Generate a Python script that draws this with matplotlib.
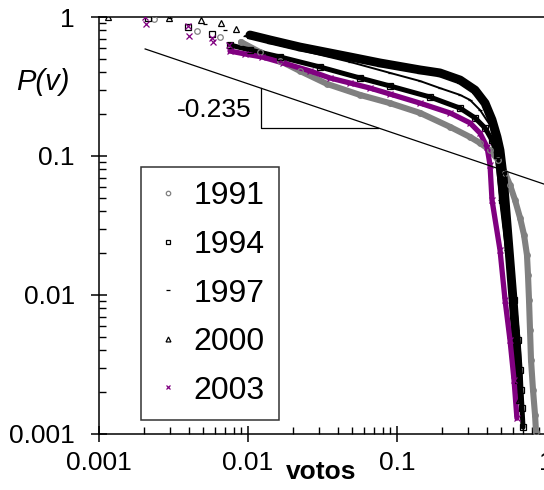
import numpy as np
import matplotlib
matplotlib.use("Agg")
import matplotlib.pyplot as plt
from matplotlib.ticker import LogLocator, NullFormatter

plt.rcParams['font.family'] = ['Liberation Sans', 'DejaVu Sans']

# ---- data (vote share v, P(v)) ----
v1991 = [0.00234, 0.00455, 0.00649, 0.00897, 0.0120, 0.0164, 0.0223, 0.0339, 0.0565, 0.0898,
         0.143, 0.227, 0.309, 0.361, 0.421, 0.476, 0.531, 0.573, 0.619, 0.670,
         0.712, 0.745, 0.757, 0.769, 0.781, 0.793, 0.818, 0.844, 0.857]
P1991 = [0.967, 0.793, 0.718, 0.661, 0.560, 0.483, 0.409, 0.330, 0.275, 0.240,
         0.204, 0.162, 0.137, 0.124, 0.110, 0.0936, 0.0754, 0.0618, 0.0483, 0.0358,
         0.0270, 0.0194, 0.0139, 0.00920, 0.00560, 0.00341, 0.00207, 0.00137, 0.00103]

v1994 = [0.00213, 0.00396, 0.00573, 0.00757, 0.0103, 0.0164, 0.0304, 0.0565, 0.0898, 0.166,
         0.265, 0.334, 0.390, 0.434, 0.469, 0.507, 0.556, 0.610, 0.649, 0.670,
         0.679, 0.690, 0.701]
P1994 = [0.983, 0.847, 0.755, 0.629, 0.579, 0.516, 0.437, 0.364, 0.319, 0.266,
         0.221, 0.188, 0.159, 0.130, 0.102, 0.0483, 0.0211, 0.00920, 0.00475, 0.00289,
         0.00207, 0.00154, 0.00112]

v1997 = [0.00300, 0.00514, 0.00701, 0.00955, 0.0141, 0.0223, 0.0484, 0.0898, 0.143, 0.194,
         0.265, 0.309, 0.361, 0.421, 0.455, 0.491, 0.539, 0.591, 0.638, 0.659, 0.670]
P1997 = [0.983, 0.890, 0.806, 0.730, 0.650, 0.579, 0.475, 0.396, 0.346, 0.308,
         0.275, 0.253, 0.214, 0.167, 0.120, 0.0483, 0.0211, 0.00920, 0.00560, 0.00341, 0.00245]

v2000 = [0.00115, 0.00295, 0.00484, 0.00659, 0.00830, 0.0103, 0.0141, 0.0223, 0.0355, 0.0484,
         0.0769, 0.143, 0.194, 0.265, 0.334, 0.390, 0.434, 0.469, 0.491, 0.514,
         0.531, 0.565, 0.601, 0.629, 0.649, 0.659]
P2000 = [1.0, 0.99, 0.951, 0.905, 0.820, 0.742, 0.683, 0.608, 0.551, 0.516,
         0.467, 0.416, 0.396, 0.352, 0.298, 0.240, 0.182, 0.137, 0.110, 0.0730,
         0.0483, 0.0211, 0.00920, 0.00475, 0.00245, 0.00176]

v2003 = [0.00204, 0.00207, 0.00396, 0.00402, 0.00573, 0.00582, 0.00745, 0.00757, 0.00955, 0.0124,
         0.0172, 0.0261, 0.0355, 0.0484, 0.0659, 0.0898, 0.143, 0.227, 0.309, 0.361,
         0.402, 0.421, 0.434, 0.491, 0.531, 0.573, 0.610, 0.638]
P2003 = [1.0, 0.890, 0.862, 0.730, 0.706, 0.661, 0.629, 0.569, 0.542, 0.516,
         0.467, 0.409, 0.364, 0.335, 0.308, 0.279, 0.240, 0.204, 0.173, 0.146,
         0.116, 0.0861, 0.0483, 0.0211, 0.00920, 0.00475, 0.00245, 0.00130]

# power-law guide and its slope triangle
fit_v = [0.00204, 1.0]
fit_P = [0.589, 0.0621]
tri_v = [0.01222, 0.01222, 0.0746]
tri_P = [0.308, 0.159, 0.159]
slope_label = "-0.235"

years = ["1991", "1994", "1997", "2000", "2003"]

# ---- styles ----
gray = '#808080'
purple = '#800080'
series = [
    # v, P, colour, marker, marker size, band width, first point of the dense band
    (v1991, P1991, gray, 'o', 4.0, 4.4, 3),
    (v1994, P1994, 'black', 's', 3.8, 3.6, 3),
    (v1997, P1997, 'black', '_', 3.5, 1.4, 3),
    (v2000, P2000, 'black', '^', 4.4, 6.4, 5),
    (v2003, P2003, purple, 'x', 3.8, 3.8, 7),
]

fig = plt.figure(figsize=(5.44, 4.9), dpi=100)
ax = fig.add_axes([0.182, 0.1143, 0.8217, 0.851])
ax.set_xscale('log')
ax.set_yscale('log')
ax.set_xlim(0.001, 1)
ax.set_ylim(0.001, 1)

handles = []
for (v, P, c, m, ms, lw, k), yr in zip(series, years):
    ax.plot(v[k:], P[k:], '-', color=c, lw=lw, solid_joinstyle='round',
            solid_capstyle='round', zorder=2)
    h, = ax.plot(v, P, ls='none', marker=m, ms=ms, mfc='none', mec=c,
                 mew=0.9, color=c, label=yr, zorder=3)
    handles.append(h)

ax.plot(fit_v, fit_P, color='black', lw=0.9, zorder=4)
ax.plot(tri_v, tri_P, color='black', lw=0.9, zorder=4)
ax.text(0.0106, 0.214, slope_label, fontsize=19, ha='right', va='center')

leg = ax.legend(handles=handles, loc='upper left', bbox_to_anchor=(0.094, 0.640),
                fontsize=23, frameon=True, fancybox=False, borderaxespad=0,
                borderpad=0.45, labelspacing=0.58, handlelength=0.8,
                handletextpad=0.4, markerscale=0.8)
leg.get_frame().set_edgecolor('black')
leg.get_frame().set_linewidth(1.1)

# axes frame: left, bottom and top; right edge falls outside the picture
for s in ['left', 'bottom', 'top']:
    ax.spines[s].set_linewidth(1.1)
ax.spines['right'].set_visible(False)

ax.set_xticks([0.001, 0.01, 0.1, 1])
ax.set_xticklabels(['0.001', '0.01', '0.1', '1'])
ax.set_yticks([0.001, 0.01, 0.1, 1])
ax.set_yticklabels(['0.001', '0.01', '0.1', '1'])
ax.xaxis.set_minor_locator(LogLocator(base=10, subs=np.arange(2, 10)))
ax.yaxis.set_minor_locator(LogLocator(base=10, subs=np.arange(2, 10)))
ax.xaxis.set_minor_formatter(NullFormatter())
ax.yaxis.set_minor_formatter(NullFormatter())
ax.tick_params(which='major', direction='inout', length=11, width=1.1, labelsize=19)
ax.tick_params(axis='x', which='major', pad=7)
ax.tick_params(axis='y', which='major', pad=12)
ax.tick_params(which='minor', direction='in', length=5, width=1)
ax.tick_params(top=False, right=False, which='both')

ax.set_xlabel('votos', fontsize=19, fontweight='bold')
ax.xaxis.set_label_coords(0.497, -0.091)
ax.xaxis.label.set_va('center')
ax.set_ylabel('P(v)', fontsize=21, style='italic', rotation=0)
ax.yaxis.set_label_coords(-0.125, 0.844)
ax.yaxis.label.set_va('center')
ax.yaxis.label.set_ha('center')

fig.savefig('out.png', dpi=100)
